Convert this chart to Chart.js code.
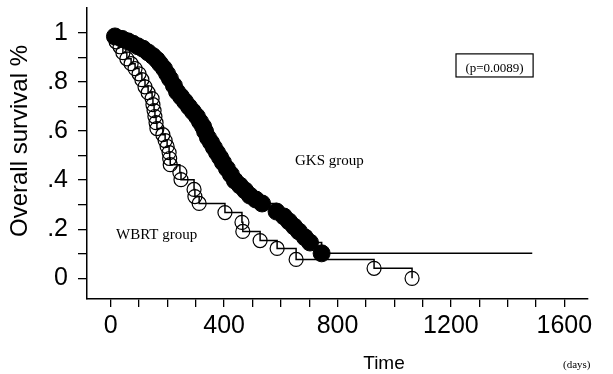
<!DOCTYPE html>
<html><head><meta charset="utf-8">
<script src="https://cdn.jsdelivr.net/npm/chart.js@4.4.1/dist/chart.umd.min.js"></script>
<style>html,body{margin:0;padding:0;background:#fff;overflow:hidden}canvas{display:block}</style>
</head><body>
<canvas id="c" width="613" height="374"></canvas>
<script>
// Kaplan-Meier data (time in days, survival fraction)
const gksTimes = [0, 15, 40, 61, 79, 96, 114, 132, 149, 163, 174, 188, 199, 209, 223, 234, 248, 262, 276, 290, 304, 315, 326, 333, 343, 354, 364, 375, 386, 396, 410, 424, 438, 456, 474, 491, 512, 534, 585, 611, 629, 647, 664, 685, 703, 744, 1487];
const gksSurv  = [1, 0.985, 0.975, 0.965, 0.955, 0.945, 0.935, 0.92, 0.905, 0.89, 0.874, 0.854, 0.833, 0.813, 0.785, 0.76, 0.74, 0.72, 0.699, 0.679, 0.659, 0.638, 0.618, 0.598, 0.573, 0.553, 0.533, 0.512, 0.492, 0.472, 0.447, 0.423, 0.398, 0.378, 0.358, 0.337, 0.321, 0.305, 0.272, 0.252, 0.232, 0.211, 0.191, 0.167, 0.146, 0.102, 0.102];
const wbrtTimes = [0, 19, 33, 43, 57, 72, 86, 100, 110, 121, 132, 146, 149, 153, 156, 160, 163, 184, 192, 199, 206, 208, 210, 244, 248, 294, 297, 312, 403, 463, 466, 527, 587, 654, 929, 1063];
const wbrtSurv  = [1, 0.963, 0.943, 0.919, 0.894, 0.874, 0.854, 0.833, 0.809, 0.78, 0.756, 0.732, 0.707, 0.683, 0.659, 0.634, 0.61, 0.585, 0.561, 0.537, 0.512, 0.488, 0.463, 0.431, 0.402, 0.362, 0.333, 0.305, 0.268, 0.228, 0.191, 0.154, 0.122, 0.077, 0.041, 0];

const xTickValues = [0, 400, 800, 1200, 1600];
const xTickLabels = ['0', '400', '800', '1200', '1600'];
const xMinorStep = 100;
const yTickValues = [0, 0.2, 0.4, 0.6, 0.8, 1];
const yTickLabels = ['0', '.2', '.4', '.6', '.8', '1'];
const yMinorStep = 0.1;

const yTitle = 'Overall survival %';
const xTitle = 'Time';
const xUnit = '(days)';
const gksLabel = 'GKS group';
const wbrtLabel = 'WBRT group';
const pLabel = '(p=0.0089)';

const SANS = '"Liberation Sans", Arial, Helvetica, sans-serif';
const SERIF = '"Liberation Serif", "Times New Roman", serif';

const mk = (ts, ss) => ts.map((t, i) => ({x: t, y: ss[i]}));
const labelFor = (vals, labs, v) => {
  const i = vals.findIndex(a => Math.abs(a - v) < 1e-6);
  return i >= 0 ? labs[i] : '';
};

const annotate = {
  id: 'annotate',
  afterDraw(chart) {
    const ctx = chart.ctx, xs = chart.scales.x, ys = chart.scales.y;
    ctx.save();
    ctx.fillStyle = '#000';
    ctx.strokeStyle = '#000';
    // y title
    ctx.save();
    ctx.font = '24px ' + SANS;
    ctx.translate(26.5, 141);
    ctx.rotate(-Math.PI / 2);
    ctx.textAlign = 'center';
    ctx.textBaseline = 'alphabetic';
    ctx.fillText(yTitle, 0, 0);
    ctx.restore();
    // x title
    ctx.font = '19px ' + SANS;
    ctx.textAlign = 'center';
    ctx.textBaseline = 'alphabetic';
    ctx.fillText(xTitle, 384, 369);
    ctx.font = '11px ' + SERIF;
    ctx.textAlign = 'left';
    ctx.fillText(xUnit, 563, 368);
    // group labels
    ctx.font = '15px ' + SERIF;
    ctx.fillText(gksLabel, xs.getPixelForValue(650), ys.getPixelForValue(0.4635));
    ctx.fillText(wbrtLabel, xs.getPixelForValue(18.7), ys.getPixelForValue(0.159));
    // p-value box
    const bx0 = xs.getPixelForValue(1218), bx1 = xs.getPixelForValue(1490);
    const by0 = ys.getPixelForValue(0.914), by1 = ys.getPixelForValue(0.82);
    ctx.lineWidth = 1.2;
    ctx.strokeRect(bx0, by0, bx1 - bx0, by1 - by0);
    ctx.font = '13px ' + SERIF;
    ctx.textAlign = 'center';
    ctx.fillText(pLabel, (bx0 + bx1) / 2, ys.getPixelForValue(0.839));
    ctx.restore();
  }
};

new Chart(document.getElementById('c'), {
  type: 'line',
  data: {
    datasets: [
      {
        label: wbrtLabel,
        data: mk(wbrtTimes, wbrtSurv),
        stepped: 'before',
        borderColor: '#000',
        borderWidth: 1.5,
        fill: false,
        pointRadius: c => c.dataIndex === 0 ? 0 : 7,
        pointStyle: 'circle',
        pointBorderColor: '#000',
        pointBackgroundColor: 'rgba(0,0,0,0)',
        pointBorderWidth: 1.2
      },
      {
        label: gksLabel,
        data: mk(gksTimes, gksSurv),
        stepped: 'before',
        borderColor: '#000',
        borderWidth: 1.6,
        fill: false,
        pointRadius: c => (c.dataIndex === 0 || c.dataIndex === gksTimes.length - 1) ? 0 : 8.5,
        pointStyle: 'circle',
        pointBorderColor: '#000',
        pointBackgroundColor: '#000',
        pointBorderWidth: 1
      }
    ]
  },
  options: {
    responsive: false,
    animation: false,
    devicePixelRatio: 1,
    layout: {padding: {left: 0, right: 25, top: 7, bottom: 0}},
    plugins: {legend: {display: false}, tooltip: {enabled: false}},
    scales: {
      x: {
        type: 'linear',
        min: -83.6,
        max: 1683.6,
        afterBuildTicks(s) {
          const t = [];
          for (let v = xTickValues[0]; v <= xTickValues[xTickValues.length - 1] + 1e-6; v += xMinorStep) t.push({value: v});
          s.ticks = t;
        },
        afterFit(s) { s.height = 75; s.paddingLeft = 0; s.paddingRight = 0; },
        grid: {drawOnChartArea: false, drawTicks: true, tickLength: 8, color: '#000', lineWidth: 1.3},
        border: {display: true, color: '#000', width: 1.5},
        ticks: {
          autoSkip: false, maxRotation: 0, minRotation: 0, padding: 4, color: '#000',
          font: {family: SANS, size: 25},
          callback: v => labelFor(xTickValues, xTickLabels, v)
        }
      },
      y: {
        type: 'linear',
        min: -0.084,
        max: 1.1,
        afterBuildTicks(s) {
          const t = [];
          for (let i = 0; i <= Math.round(1 / yMinorStep); i++) t.push({value: i * yMinorStep});
          s.ticks = t;
        },
        afterFit(s) { s.width = 87; s.paddingTop = 0; s.paddingBottom = 0; },
        grid: {drawOnChartArea: false, drawTicks: true, tickLength: 9, color: '#000', lineWidth: 1.3},
        border: {display: true, color: '#000', width: 1.5},
        ticks: {
          autoSkip: false, padding: 10, color: '#000',
          font: {family: SANS, size: 25},
          callback: v => labelFor(yTickValues, yTickLabels, v)
        }
      }
    }
  },
  plugins: [annotate]
});
</script>
</body></html>
